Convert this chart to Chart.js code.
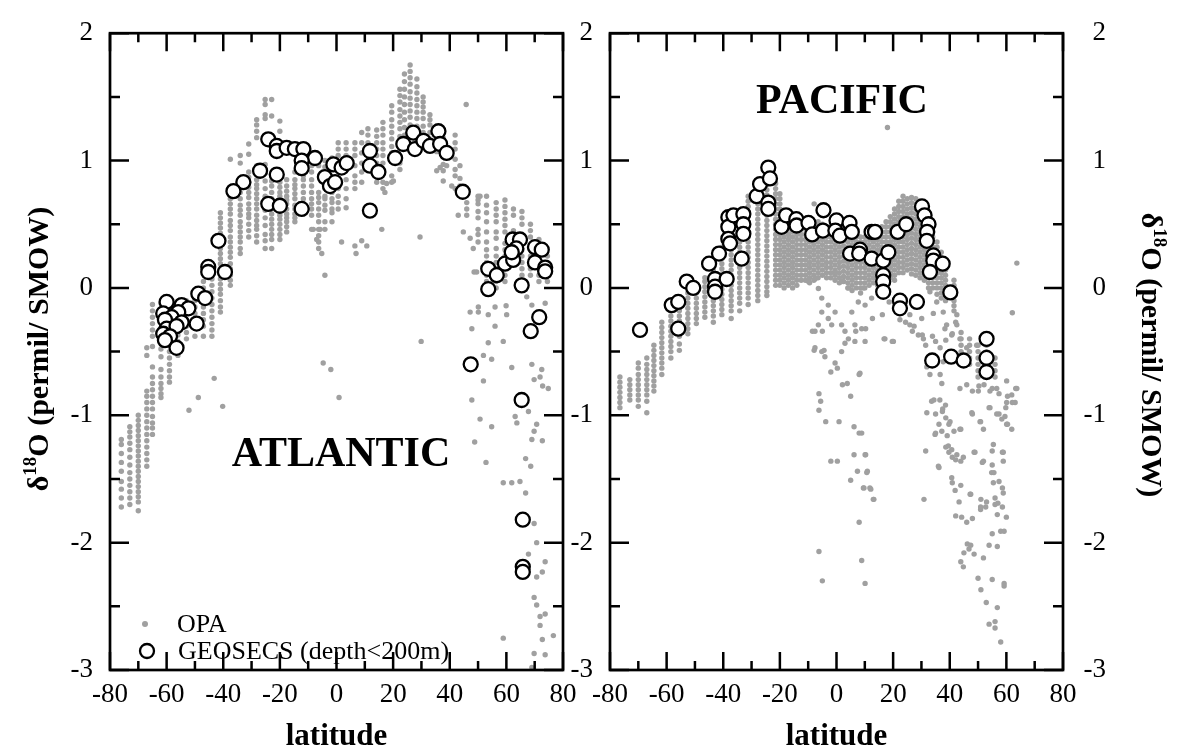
<!DOCTYPE html>
<html>
<head>
<meta charset="utf-8">
<script src="https://cdn.jsdelivr.net/npm/chart.js@4.4.1/dist/chart.umd.min.js"></script>
<style>
	html, body { margin: 0; background: #fff; }
	body { width: 1179px; height: 749px; position: relative; overflow: hidden; }
	canvas { position: absolute; top: 0; }
	#atl { left: 0; }
	#pac { left: 565px; }
</style>
</head>
<body>
<canvas id="atl" width="600" height="749"></canvas>
<canvas id="pac" width="614" height="749"></canvas>
<script>
// OPA model values, grouped by model latitude column: [lat, [d18O...]]
const atlOpaColumns = [
	[-76, [-1.19, -1.23, -1.30, -1.37, -1.44, -1.52, -1.58, -1.65, -1.72]],
	[-73, [-1.09, -1.13, -1.17, -1.22, -1.27, -1.33, -1.39, -1.45, -1.50, -1.55, -1.60, -1.65, -1.70]],
	[-70, [-1.00, -1.04, -1.08, -1.12, -1.16, -1.20, -1.24, -1.28, -1.32, -1.36, -1.40, -1.44, -1.48, -1.52, -1.56, -1.60, -1.64, -1.68, -1.75]],
	[-67, [-0.47, -0.53, -0.81, -0.85, -0.90, -0.95, -1.00, -1.05, -1.10, -1.15, -1.20, -1.25, -1.30, -1.35, -1.40]],
	[-65, [-0.13, -0.18, -0.23, -0.28, -0.33, -0.38, -0.46, -0.62, -0.70, -0.75, -0.80, -0.85, -0.90, -0.95, -1.01, -1.06, -1.10, -1.15]],
	[-62, [-0.12, -0.17, -0.22, -0.27, -0.32, -0.37, -0.42, -0.48, -0.54, -0.64, -0.70, -0.75, -0.79, -0.83, -0.86]],
	[-59, [-0.15, -0.20, -0.25, -0.30, -0.35, -0.40, -0.45, -0.50, -0.55, -0.60, -0.65, -0.70, -0.74]],
	[-56, [-0.12, -0.17, -0.22, -0.27, -0.32, -0.37, -0.42, -0.47, -0.53]],
	[-53, [-0.10, -0.15, -0.20, -0.25, -0.30, -0.35, -0.40]],
	[-50, [-0.05, -0.10, -0.15, -0.20, -0.25, -0.30, -0.38]],
	[-47, [0.05, 0.00, -0.05, -0.10, -0.15, -0.20, -0.25, -0.30, -0.38]],
	[-44, [0.12, 0.07, 0.02, -0.03, -0.08, -0.13, -0.18, -0.23, -0.28, -0.33, -0.38]],
	[-41, [0.59, 0.55, 0.51, 0.47, 0.43, 0.39, 0.35, 0.31, 0.27, 0.23, 0.19, 0.15, 0.11, 0.07, 0.03, -0.01, -0.05, -0.10, -0.15, -0.19]],
	[-37.5, [1.01, 0.75, 0.70, 0.66, 0.62, 0.58, 0.53, 0.49, 0.45, 0.40, 0.36, 0.32, 0.28, 0.24, 0.19, 0.15, 0.10, 0.06, 0.02]],
	[-34, [1.04, 0.98, 0.75, 0.70, 0.65, 0.61, 0.57, 0.52, 0.48, 0.44, 0.40, 0.36, 0.31, 0.27]],
	[-31, [1.13, 1.05, 0.91, 0.87, 0.83, 0.79, 0.75, 0.71, 0.66, 0.62, 0.58, 0.55, 0.50, 0.45, 0.40]],
	[-28.2, [1.32, 1.28, 1.23, 1.18, 0.96, 0.90, 0.85, 0.81, 0.78, 0.74, 0.70, 0.66, 0.62, 0.57, 0.53, 0.49, 0.46, 0.41, 0.36]],
	[-25.2, [1.48, 1.44, 1.36, 1.33, 0.97, 0.90, 0.84, 0.78, 0.72, 0.67, 0.61, 0.55, 0.49, 0.42, 0.37, 0.31]],
	[-22.9, [1.48, 1.35, 0.84, 0.80, 0.75, 0.70, 0.66, 0.62, 0.58, 0.54, 0.50, 0.46, 0.42, 0.38, 0.31]],
	[-20, [1.31, 1.23, 0.83, 0.79, 0.75, 0.72, 0.69, 0.65, 0.61, 0.57, 0.54, 0.50, 0.46, 0.42, 0.38]],
	[-17.6, [0.85, 0.80, 0.76, 0.72, 0.69, 0.66, 0.62, 0.58, 0.55, 0.52, 0.48, 0.44]],
	[-14.7, [1.09, 0.91, 0.85, 0.81, 0.78, 0.74, 0.70, 0.65, 0.62, 0.58, 0.55, 0.52]],
	[-11.7, [0.91, 0.88, 0.85, 0.80, 0.75, 0.70, 0.65, 0.61, 0.58]],
	[-8.8, [1.02, 0.96, 0.91, 0.85, 0.80, 0.75, 0.70, 0.66, 0.62, 0.57, 0.46]],
	[-6.3, [0.96, 0.75, 0.71, 0.67, 0.62, 0.57, 0.52, 0.46, 0.41, 0.36, 0.31]],
	[-4.1, [1.00, 0.95, 0.88, 0.83, 0.78, 0.72, 0.70, 0.65, 0.61, 0.52, 0.46]],
	[-1.6, [1.02, 0.98, 0.93, 0.75, 0.70, 0.67, 0.62, 0.59, 0.52]],
	[0.6, [1.14, 1.09, 1.04, 0.98, 0.93, 0.78, 0.72, 0.67, 0.62]],
	[3.4, [1.14, 1.09, 1.04, 0.98, 0.93, 0.85, 0.78, 0.70, 0.63]],
	[6.5, [1.14, 1.09, 1.04, 0.96, 0.88, 0.83, 0.78]],
	[8.9, [1.22, 1.14, 1.06, 0.98, 0.91, 0.83]],
	[11.1, [1.25, 1.20, 1.14, 0.93]],
	[14.2, [1.24, 1.19, 1.14, 1.09, 1.04, 0.98, 0.88, 0.83]],
	[16.4, [1.30, 1.25, 1.20, 1.14, 1.09, 1.04, 0.98, 0.83, 0.78]],
	[19.5, [1.43, 1.38, 1.32, 1.27, 1.22, 1.17, 1.11, 1.06, 0.88, 0.83]],
	[22.4, [1.56, 1.51, 1.46, 1.40, 1.35, 1.30, 1.25, 1.19, 1.14, 0.98, 0.93]],
	[24, [1.68, 1.62, 1.56, 1.50, 1.44, 1.38, 1.32, 1.26, 1.20]],
	[26, [1.75, 1.70, 1.65, 1.60, 1.54, 1.49, 1.44, 1.39, 1.34, 1.28, 1.22]],
	[28.4, [1.64, 1.58, 1.53, 1.48, 1.43, 1.38, 1.33, 1.27, 1.22, 1.16]],
	[30.6, [1.50, 1.46, 1.42, 1.38, 1.33, 1.27, 1.22, 1.16]],
	[33, [1.36, 1.32, 1.28, 1.22, 1.17, 1.12]],
	[35.4, [1.26, 1.22, 1.17, 1.12, 1.07, 0.92]],
	[37.7, [1.18, 1.13, 1.08, 1.03, 0.97, 0.92, 0.84]],
	[41.9, [1.20, 1.14, 1.09, 1.01, 0.93, 0.88, 0.78]],
	[43.6, [0.96, 0.86, 0.80]],
	[46, [0.67, 0.62, 0.57]],
	[50, [0.72, 0.69, 0.66, 0.60, 0.55, 0.46, 0.42, 0.36]],
	[53, [0.72, 0.65, 0.59, 0.52, 0.44, 0.36, 0.30, 0.25, 0.20, 0.15, 0.10, 0.05]],
	[56.4, [0.67, 0.62, 0.57, 0.52, 0.44, 0.39, 0.31, 0.25, 0.20, 0.15, 0.10, 0.05, 0.00]],
	[59.5, [0.69, 0.64, 0.59, 0.54, 0.49, 0.44, 0.35, 0.30, 0.25, 0.20, 0.15, 0.10, 0.05]],
	[62.5, [0.62, 0.57, 0.45, 0.40, 0.35, 0.30, 0.25, 0.20]],
	[65.5, [0.60, 0.55, 0.50, 0.35, 0.30, 0.25, 0.20, 0.15, 0.10]],
	[68.5, [0.50, 0.45, 0.40, 0.30, 0.25, 0.20, 0.15, 0.10]],
	[71.5, [0.38, 0.30, 0.25, 0.20, 0.15, 0.10, 0.05]],
	[74.5, [0.25, 0.20, 0.15, 0.10, 0.05]],
]

// OPA values away from the dense columns: [lat, d18O]
const atlOpaLoose = [
	[-48.8, -0.86], [-52.1, -0.96], [-43.2, -0.71], [-40.2, -0.93], [-4.1, 0.10], [-4.7, -0.59], [-2.0, -0.64],
	[0.9, -0.86], [6.9, 0.27], [-5.2, 0.27], [-8.2, 0.46], [-5.8, 0.46], [-7.0, 0.38], [1.8, 0.36], [6.5, 0.33],
	[8.9, 0.37], [10.7, 0.33], [16.0, 0.46], [29.5, 0.40], [45.8, 1.44], [43.0, 0.57], [44.8, 0.44], [47.2, 0.39],
	[48.3, 0.31], [48.6, 0.125], [50.1, -0.19], [29.9, -0.42], [36.6, 0.945], [38.9, 0.96], [40.7, 0.80],
	[20.1, 0.84], [17.7, 0.82], [17.1, 0.75], [50.7, 0.72],
	[47.2, -0.19], [50.1, -0.15], [47.8, -0.32], [53.6, -0.21], [56.0, -0.30], [58.9, -0.42], [53.6, -0.43],
	[51.9, -0.53], [54.8, -0.56], [51.9, -0.73], [47.8, -0.88], [50.7, -1.03], [54.8, -1.09], [48.8, -1.21],
	[52.8, -1.37], [58.9, -1.53], [61.9, -1.53], [64.8, -1.52], [66.8, -1.34], [68.6, -1.40], [66.8, -1.61],
	[61.9, -0.625], [69.0, -0.60], [72.5, -0.64], [69.8, -0.72], [71.9, -0.70], [72.8, -0.77], [74.8, -0.79],
	[63.1, -1.01], [63.7, -1.06], [67.8, -0.97], [70.7, -1.07], [69.8, -1.125], [69.0, -1.19], [72.7, -1.20],
	[69.0, -0.135], [73.7, -0.12], [67.2, -0.07], [59.9, -0.14], [60.1, -0.21], [56.0, -0.15], [49.5, 0.125],
	[69.8, -1.85], [70.7, -2.00], [67.8, -2.09], [73.7, -2.15], [72.7, -2.23], [70.7, -2.27], [69.8, -2.43],
	[70.7, -2.49], [71.9, -2.58], [73.7, -2.56], [71.9, -2.65], [76.6, -2.73], [72.7, -2.76], [58.9, -2.75],
	[69.8, -2.87], [73.7, -2.88], [69.0, -2.98],
]

// GEOSECS surface samples (depth < 200 m): [lat, d18O]
const atlGeosecs = [
	[-24.1, 1.167], [-21.1, 1.115], [-21.1, 1.075], [-17.6, 1.10], [-14.7, 1.09], [-11.7, 1.09], [-7.6, 1.02],
	[-12.3, 1.00], [-12.3, 0.94], [-27.0, 0.92], [-21.1, 0.89], [-32.9, 0.83], [-36.4, 0.76], [-4.1, 0.87],
	[-2.3, 0.80], [-0.5, 0.83], [-1.1, 0.97], [1.8, 0.945], [3.6, 0.98], [11.8, 1.075], [11.8, 0.96], [14.8, 0.91],
	[20.7, 1.02], [23.6, 1.13], [27.1, 1.22], [27.7, 1.09], [30.7, 1.155], [33.0, 1.115], [36.0, 1.23], [36.6, 1.13],
	[38.9, 1.06], [44.6, 0.755], [-24.1, 0.66], [-20.0, 0.645], [-12.3, 0.62], [11.8, 0.607], [-41.7, 0.37],
	[-45.3, 0.165], [-45.3, 0.125], [-39.4, 0.125], [-48.8, -0.045], [-46.4, -0.08],
	[-60.0, -0.11], [-54.7, -0.135], [-52.3, -0.16], [-55.9, -0.19], [-61.2, -0.20], [-58.2, -0.23], [-60.6, -0.25],
	[-54.7, -0.27], [-49.4, -0.28], [-60.0, -0.32], [-56.5, -0.30], [-61.2, -0.36], [-58.8, -0.38], [-60.6, -0.41],
	[-56.5, -0.47],
	[62.2, 0.38], [64.8, 0.38], [63.5, 0.31], [70.1, 0.32], [72.5, 0.30], [53.6, 0.15], [56.6, 0.10], [59.5, 0.19],
	[62.4, 0.22], [61.9, 0.28], [53.6, -0.01], [65.4, 0.02], [70.1, 0.20], [73.7, 0.16], [73.7, 0.13], [71.6, -0.23],
	[68.6, -0.34], [47.4, -0.60], [65.4, -0.88], [65.8, -1.82], [65.8, -2.19], [65.8, -2.23],
]

const pacOpaColumns = [
	[-76.5, [-0.70, -0.74, -0.78, -0.82, -0.86, -0.90, -0.94]],
	[-73, [-0.72, -0.76, -0.80, -0.84, -0.88]],
	[-70, [-0.59, -0.63, -0.68, -0.72, -0.76, -0.80, -0.84, -0.88, -0.93]],
	[-67, [-0.55, -0.60, -0.64, -0.68, -0.72, -0.76, -0.80, -0.84, -0.89, -0.98]],
	[-64.5, [-0.45, -0.49, -0.53, -0.57, -0.61, -0.65, -0.69, -0.73, -0.77, -0.81]],
	[-61.7, [-0.27, -0.31, -0.35, -0.39, -0.43, -0.47, -0.51, -0.55, -0.59, -0.63, -0.68]],
	[-58.5, [-0.18, -0.22, -0.26, -0.30, -0.34, -0.38, -0.42, -0.46, -0.50, -0.55]],
	[-55.5, [-0.10, -0.14, -0.18, -0.22, -0.26, -0.30, -0.34, -0.38, -0.44, -0.49]],
	[-52.5, [-0.04, -0.08, -0.12, -0.16, -0.20, -0.24, -0.28, -0.32, -0.36]],
	[-49.5, [0.00, -0.04, -0.08, -0.12, -0.16, -0.20, -0.24, -0.28]],
	[-46.5, [0.08, 0.05, 0.01, -0.03, -0.07, -0.11, -0.15, -0.19, -0.23]],
	[-43.5, [0.14, 0.10, 0.06, 0.02, -0.02, -0.06, -0.10, -0.14, -0.18, -0.22, -0.27]],
	[-40.5, [0.32, 0.27, 0.23, 0.19, 0.15, 0.11, 0.07, 0.03, -0.01, -0.05, -0.09, -0.13, -0.17, -0.21]],
	[-37.2, [0.50, 0.46, 0.42, 0.38, 0.34, 0.30, 0.26, 0.22, 0.18, 0.14, 0.10, 0.06, 0.02, -0.02, -0.06, -0.10, -0.14, -0.18, -0.24]],
	[-34.2, [0.52, 0.48, 0.44, 0.40, 0.36, 0.32, 0.28, 0.24, 0.20, 0.16, 0.12, 0.08, 0.04, 0.00, -0.04, -0.08, -0.12, -0.18]],
	[-31.2, [0.72, 0.68, 0.64, 0.60, 0.56, 0.52, 0.48, 0.44, 0.40, 0.36, 0.32, 0.28, 0.24, 0.20, 0.16, 0.12, 0.08, 0.04, 0.00, -0.04, -0.08, -0.13]],
	[-27.8, [0.78, 0.74, 0.70, 0.66, 0.62, 0.58, 0.54, 0.50, 0.46, 0.42, 0.38, 0.34, 0.30, 0.26, 0.22, 0.18, 0.14, 0.10, 0.06, 0.02, -0.02, -0.06, -0.10]],
	[-24.6, [0.93, 0.89, 0.85, 0.81, 0.77, 0.73, 0.69, 0.65, 0.61, 0.57, 0.53, 0.49, 0.45, 0.41, 0.37, 0.33, 0.29, 0.25, 0.21, 0.17, 0.13, 0.09, 0.05, 0.01, -0.03, -0.06]],
	[-21.5, [0.82, 0.78, 0.74, 0.70, 0.66, 0.62, 0.58, 0.54, 0.50, 0.46, 0.42, 0.38, 0.34, 0.30, 0.26, 0.22, 0.18, 0.14, 0.10, 0.06, 0.02]],
	[-20, [0.74, 0.70, 0.66, 0.62, 0.58, 0.54, 0.50, 0.46, 0.42, 0.38, 0.34, 0.30, 0.26, 0.22, 0.18, 0.14, 0.10, 0.06, 0.02]],
	[-18.5, [0.56, 0.52, 0.48, 0.44, 0.40, 0.36, 0.32, 0.28, 0.24, 0.20, 0.16, 0.12, 0.08, 0.04, 0.00]],
	[-17, [0.54, 0.50, 0.46, 0.42, 0.38, 0.34, 0.30, 0.26, 0.22, 0.18, 0.14, 0.10, 0.06, 0.02]],
	[-15.5, [0.52, 0.48, 0.44, 0.40, 0.36, 0.32, 0.28, 0.24, 0.20, 0.16, 0.12, 0.08, 0.04, 0.00]],
	[-14, [0.50, 0.46, 0.42, 0.38, 0.34, 0.30, 0.26, 0.22, 0.18, 0.14, 0.10, 0.06, 0.02]],
	[-12.5, [0.46, 0.42, 0.38, 0.34, 0.30, 0.26, 0.22, 0.18, 0.14, 0.10, 0.06]],
	[-11, [0.46, 0.42, 0.38, 0.34, 0.30, 0.26, 0.22, 0.18, 0.14, 0.10, 0.06]],
	[-9.5, [0.48, 0.44, 0.40, 0.36, 0.32, 0.28, 0.24, 0.20, 0.16, 0.12, 0.08, 0.04]],
	[-8, [0.50, 0.46, 0.42, 0.38, 0.34, 0.30, 0.26, 0.22, 0.18, 0.14, 0.10, 0.06]],
	[-6.5, [0.52, 0.48, 0.44, 0.40, 0.36, 0.32, 0.28, 0.24, 0.20, 0.16, 0.12, 0.08]],
	[-5, [0.50, 0.46, 0.42, 0.38, 0.34, 0.30, 0.26, 0.22, 0.18, 0.14, 0.10]],
	[-3.5, [0.48, 0.44, 0.40, 0.36, 0.32, 0.28, 0.24, 0.20, 0.16, 0.12, 0.08]],
	[-2, [0.44, 0.40, 0.36, 0.32, 0.28, 0.24, 0.20, 0.16, 0.12, 0.08]],
	[-0.5, [0.42, 0.38, 0.34, 0.30, 0.26, 0.22, 0.18, 0.14, 0.10, 0.06]],
	[1, [0.44, 0.40, 0.36, 0.32, 0.28, 0.24, 0.20, 0.16, 0.12, 0.08, 0.04]],
	[2.5, [0.45, 0.41, 0.37, 0.33, 0.29, 0.25, 0.21, 0.17, 0.13, 0.09, 0.05]],
	[4, [0.44, 0.40, 0.36, 0.32, 0.28, 0.24, 0.20, 0.16, 0.12, 0.08, 0.04, 0.00]],
	[5.5, [0.42, 0.38, 0.34, 0.30, 0.26, 0.22, 0.18, 0.14, 0.10, 0.06, 0.02, -0.02]],
	[7, [0.40, 0.36, 0.32, 0.28, 0.24, 0.20, 0.16, 0.12, 0.08, 0.04, 0.00]],
	[8.5, [0.40, 0.36, 0.32, 0.28, 0.24, 0.20, 0.16, 0.12, 0.08, 0.04, 0.00, -0.04]],
	[10, [0.40, 0.36, 0.32, 0.28, 0.24, 0.20, 0.16, 0.12, 0.08, 0.04, 0.00]],
	[11.5, [0.42, 0.38, 0.34, 0.30, 0.26, 0.22, 0.18, 0.14, 0.10, 0.06, 0.02]],
	[13, [0.44, 0.40, 0.36, 0.32, 0.28, 0.24, 0.20, 0.16, 0.12, 0.08, 0.04]],
	[14.5, [0.46, 0.42, 0.38, 0.34, 0.30, 0.26, 0.22, 0.18, 0.14, 0.10, 0.06, 0.02]],
	[16, [0.48, 0.44, 0.40, 0.36, 0.32, 0.28, 0.24, 0.20, 0.16, 0.12, 0.08, 0.04]],
	[17.5, [0.52, 0.48, 0.44, 0.40, 0.36, 0.32, 0.28, 0.24, 0.20, 0.16, 0.12, 0.08, 0.04]],
	[19, [0.56, 0.52, 0.48, 0.44, 0.40, 0.36, 0.32, 0.28, 0.24, 0.20, 0.16, 0.12, 0.08]],
	[20.5, [0.62, 0.58, 0.54, 0.50, 0.46, 0.42, 0.38, 0.34, 0.30, 0.26, 0.22, 0.18, 0.14, 0.10, 0.06]],
	[22, [0.68, 0.64, 0.60, 0.56, 0.52, 0.48, 0.44, 0.40, 0.36, 0.32, 0.28, 0.24, 0.20, 0.16, 0.12]],
	[23.5, [0.72, 0.68, 0.64, 0.60, 0.56, 0.52, 0.48, 0.44, 0.40, 0.36, 0.32, 0.28, 0.24, 0.20, 0.16, 0.12]],
	[25, [0.70, 0.66, 0.62, 0.58, 0.54, 0.50, 0.46, 0.42, 0.38, 0.34, 0.30, 0.26, 0.22, 0.18, 0.14]],
	[26.5, [0.71, 0.67, 0.63, 0.59, 0.55, 0.51, 0.47, 0.43, 0.39, 0.35, 0.31, 0.27, 0.23, 0.19, 0.15, 0.11]],
	[28, [0.70, 0.66, 0.62, 0.58, 0.54, 0.50, 0.46, 0.42, 0.38, 0.34, 0.30, 0.26, 0.22, 0.18, 0.14, 0.10]],
	[29.5, [0.68, 0.64, 0.60, 0.56, 0.52, 0.48, 0.44, 0.40, 0.36, 0.32, 0.28, 0.24, 0.20, 0.16, 0.12, 0.08]],
	[31, [0.62, 0.58, 0.54, 0.50, 0.46, 0.42, 0.38, 0.34, 0.30, 0.26, 0.22, 0.18, 0.14, 0.10, 0.06]],
	[32.5, [0.52, 0.48, 0.44, 0.40, 0.36, 0.32, 0.28, 0.24, 0.20, 0.16, 0.12, 0.08, 0.04, 0.00]],
	[34, [0.44, 0.40, 0.36, 0.32, 0.28, 0.24, 0.20, 0.16, 0.12, 0.08, 0.04, 0.00]],
	[35.5, [0.36, 0.32, 0.28, 0.24, 0.20, 0.16, 0.12, 0.08, 0.04, 0.00, -0.05]],
	[37, [0.28, 0.24, 0.20, 0.16, 0.12, 0.08, 0.04, 0.00, -0.04, -0.08]],
	[38.5, [0.22, 0.18, 0.14, 0.10, 0.06, 0.02, -0.02, -0.06, -0.10]],
	[41.5, [0.06, 0.02, -0.02, -0.06, -0.10, -0.14, -0.18]],
	[44, [-0.35, -0.40, -0.45, -0.50, -0.55]],
	[47, [-0.40, -0.45, -0.50, -0.55, -0.60]],
	[50, [-0.45, -0.50, -0.55, -0.60, -0.65, -0.70]],
	[53, [-0.45, -0.50, -0.60, -0.65, -0.70]],
	[56, [-0.55, -0.60, -0.65, -0.70]],
]

const pacOpaLoose = [
	[-12.3, 0.18], [-9.9, 0.05], [-7.6, 0.07], [-6.4, -0.005], [-5.2, -0.08], [-2.9, -0.135], [-5.2, -0.19],
	[-2.9, -0.24], [-0.5, -0.19], [-1.7, -0.29], [1.8, -0.29], [3.0, -0.34], [4.2, -0.40], [6.5, -0.29],
	[8.9, -0.32], [10.1, -0.42], [6.5, -0.42], [3.0, -0.435], [5.4, -0.19], [7.7, -0.11], [10.1, -0.135],
	[12.4, -0.08], [-7.6, -0.34], [-6.4, -0.29], [-7.6, -0.47], [-5.2, -0.50], [-4.1, -0.54], [-0.5, -0.59],
	[1.8, -0.50], [4.2, 0.00], [9.5, 0.00], [-0.5, 0.125], [1.8, 0.05],
	[-8.5, -0.34], [-5.0, -0.34], [-7.9, -0.49], [-4.4, -0.49], [-2.0, -0.66], [0.3, -0.63], [2.1, -0.76],
	[3.8, -0.75], [8.0, -0.68], [5.0, -0.85], [-6.2, -0.83], [-5.6, -0.89], [-6.2, -0.96], [-3.8, -1.05],
	[0.9, -1.05], [6.2, -1.09], [8.0, -1.14], [-2.0, -1.36], [0.3, -1.36], [6.2, -1.31], [10.3, -1.31],
	[5.0, -1.51], [7.4, -1.44], [10.9, -1.44], [9.7, -1.57], [12.1, -1.58], [13.2, -1.66], [30.9, -1.66],
	[6.8, -0.34], [10.3, -0.32], [12.7, -0.24], [16.2, -0.21], [18.6, -0.11], [16.8, -0.40], [19.7, -0.42],
	[24.4, -0.27], [26.8, -0.34], [27.4, -0.30], [30.3, -0.37], [33.9, -0.38], [31.5, -0.45], [35.0, -0.42],
	[38.6, -0.41], [40.9, -0.36], [42.1, -0.27],
	[33.0, -0.03], [35.4, -0.11], [37.7, -0.19], [38.9, -0.29], [40.7, -0.37], [42.5, -0.29], [43.6, -0.40],
	[42.5, -0.21], [36.6, -0.47], [37.7, -0.58], [43.6, -0.53], [46.0, -0.47], [49.5, -0.45],
	[60.1, -0.73], [63.7, -0.79], [61.9, -0.84], [60.1, -0.90], [63.1, -0.90], [59.5, -1.01], [60.1, -1.07],
	[61.9, -1.11], [56.6, -0.99], [58.4, -1.03], [54.2, -0.94], [50.7, -1.05], [47.8, -0.98], [43.6, -1.11],
	[40.1, -1.05], [37.5, -0.95], [36.5, -0.88], [38.5, -0.92],
	[31.9, -0.98], [34.8, -1.15], [37.2, -1.125], [39.5, -1.24], [40.7, -1.27], [42.5, -1.31], [44.8, -1.33],
	[36.0, -1.40], [40.7, -1.49], [41.9, -1.59], [47.2, -1.62], [48.9, -1.29], [51.9, -1.36], [54.8, -1.45],
	[55.4, -1.53], [56.0, -1.65], [58.9, -1.61], [58.9, -1.36], [58.9, -1.29], [55.4, -1.23], [51.9, -1.11],
	[43.6, -0.79], [46.0, -0.76], [50.1, -0.81], [54.2, -0.81], [56.6, -0.79], [36.6, -0.68], [37.2, -0.75],
	[33.6, -0.89], [31.9, -0.62], [33.0, -0.68],
	[8.3, -0.67], [8.9, -1.14], [10.1, -1.31], [10.7, -1.45], [9.5, -1.57], [11.8, -1.57], [13.0, -1.66],
	[17.1, -0.40], [20.1, -0.42], [22.4, -0.25], [25.9, -0.29], [28.9, -0.37], [30.7, -0.40], [25.9, -0.21],
	[30.1, -0.24], [34.2, -0.20], [38.3, -0.32], [63.7, 0.195], [62.1, -0.195], [18.0, 1.26], [-7.9, 0.66],
	[-6.2, -2.07], [-5.0, -2.30], [8.0, -1.84], [8.9, -2.14], [10.1, -2.32], [42.1, -1.79], [44.2, -1.80],
	[46.0, -1.84], [48.0, -1.81], [43.3, -1.68], [50.9, -1.74], [52.7, -1.72], [56.0, -1.70], [56.8, -1.78],
	[60.0, -1.80], [55.0, -1.93], [58.0, -1.91], [59.2, -1.91], [46.2, -2.01], [46.8, -2.05], [48.6, -2.09],
	[45.0, -2.08], [47.4, -2.02], [53.9, -2.02], [56.8, -2.03], [43.9, -2.15], [44.8, -2.19], [51.9, -2.12],
	[50.0, -2.28], [51.0, -2.37], [55.0, -2.29], [59.2, -2.32], [59.2, -2.34], [52.9, -2.47], [56.8, -2.51],
	[53.9, -2.64], [56.0, -2.62], [56.0, -2.67], [58.0, -2.78],
	[34.4, -0.88], [35.0, -0.99], [37.4, -0.97], [38.6, -1.02], [39.7, -1.07], [36.2, -1.07], [35.0, -1.14],
	[39.1, -1.16], [41.5, -1.125], [43.9, -1.11], [48.0, -0.99], [50.9, -1.05], [53.9, -0.94], [57.4, -0.99],
	[59.8, -0.94], [60.4, -1.07], [62.1, -0.90], [63.3, -0.79], [60.4, -0.85], [57.4, -0.83], [55.0, -0.79],
	[52.1, -0.76], [50.3, -0.77], [48.0, -0.81], [31.5, -1.28], [38.6, -1.25], [39.7, -1.29], [40.9, -1.33],
	[42.1, -1.35], [43.9, -1.36], [48.6, -1.29], [51.5, -1.37], [55.0, -1.28], [55.0, -1.39], [58.6, -1.29],
	[55.6, -1.45], [57.4, -1.52], [58.6, -1.57], [36.2, -1.41], [40.9, -1.53], [43.9, -1.55], [47.4, -1.62],
	[50.9, -1.72], [51.0, -1.66], [53.0, -1.68], [57.0, -1.69], [58.6, -1.72],
]

const pacGeosecs = [
	[-69.4, -0.33], [-58.2, -0.135], [-55.9, -0.11], [-55.9, -0.32], [-52.9, 0.05], [-50.6, 0.00], [-45.0, 0.19],
	[-42.9, 0.07], [-42.9, 0.01], [-42.9, -0.03], [-41.5, 0.27], [-38.8, 0.07], [-38.2, 0.555], [-38.2, 0.48],
	[-38.2, 0.385], [-37.6, 0.35], [-36.4, 0.57], [-33.5, 0.23], [-32.9, 0.58], [-32.9, 0.50], [-32.9, 0.425],
	[-28.2, 0.72], [-27.0, 0.815], [-24.1, 0.945], [-23.5, 0.86], [-24.1, 0.67], [-24.1, 0.62],
	[-19.4, 0.48], [-17.8, 0.57], [-14.2, 0.54], [-14.1, 0.49], [-9.9, 0.51], [-8.6, 0.42], [-4.6, 0.61],
	[-4.8, 0.45], [0.0, 0.53], [-0.4, 0.45], [1.2, 0.41], [4.6, 0.51], [5.4, 0.44], [4.8, 0.27], [8.3, 0.30],
	[8.0, 0.27], [12.4, 0.44], [13.6, 0.44], [12.4, 0.23], [16.5, 0.215], [18.3, 0.28], [16.5, 0.10], [16.5, 0.05],
	[16.5, -0.03], [21.6, 0.44], [24.6, 0.50], [30.2, 0.64], [31.1, 0.57], [32.5, 0.50], [32.0, 0.44], [31.9, 0.37],
	[34.2, 0.255], [34.2, 0.215], [37.5, 0.19], [33.0, 0.125], [40.2, -0.035], [22.4, -0.10], [22.4, -0.16],
	[28.4, -0.11], [33.8, -0.57], [40.5, -0.54], [44.9, -0.57], [53.0, -0.40], [53.0, -0.55], [53.0, -0.66],
]

const latMin = -80
const latMax = 80
const d18Min = -3
const d18Max = 2

const GRAY = "#a0a0a0"
const SERIF = '"Liberation Serif", "Times New Roman", serif'

function toPoints(columns, loose) {
	const pts = []
	columns.forEach(([lat, values]) => {
		values.forEach(v => pts.push({ x: lat, y: v }))
	})
	loose.forEach(([lat, v]) => pts.push({ x: lat, y: v }))
	return pts
}

function pairs(list) {
	return list.map(([lat, v]) => ({ x: lat, y: v }))
}

function drawDeltaTitle(ctx, x, y, angle) {
	const big = "bold 30px " + SERIF
	const small = "bold 19px " + SERIF
	const parts = [["δ", big, 0], ["18", small, -12], ["O (permil/ SMOW)", big, 0]]
	ctx.save()
	ctx.translate(x, y)
	ctx.rotate(angle)
	ctx.fillStyle = "#000"
	ctx.textAlign = "left"
	ctx.textBaseline = "alphabetic"
	let total = 0
	parts.forEach(p => {
		ctx.font = p[1]
		total += ctx.measureText(p[0]).width
	})
	let cx = -total / 2
	parts.forEach(p => {
		ctx.font = p[1]
		ctx.fillText(p[0], cx, p[2])
		cx += ctx.measureText(p[0]).width
	})
	ctx.restore()
}

// frame, inward ticks on all sides, titles, panel label, legend
const deco = {
	id: "deco",
	afterDatasetsDraw(chart, args, opts) {
		const { ctx, chartArea: a, scales } = chart
		ctx.save()
		ctx.strokeStyle = "#000"
		ctx.lineWidth = 2.5
		ctx.beginPath()
		scales.x.ticks.forEach(t => {
			const px = scales.x.getPixelForValue(t.value)
			const len = t.value % 20 === 0 ? 18 : 9
			ctx.moveTo(px, a.bottom)
			ctx.lineTo(px, a.bottom - len)
			ctx.moveTo(px, a.top)
			ctx.lineTo(px, a.top + len)
		})
		scales.y.ticks.forEach(t => {
			const py = scales.y.getPixelForValue(t.value)
			const len = Math.abs(t.value - Math.round(t.value)) < 1e-6 ? 19 : 10
			ctx.moveTo(a.left, py)
			ctx.lineTo(a.left + len, py)
			ctx.moveTo(a.right, py)
			ctx.lineTo(a.right - len, py)
		})
		ctx.stroke()
		ctx.lineWidth = 2.7
		ctx.strokeRect(a.left, a.top, a.right - a.left, a.bottom - a.top)

		ctx.fillStyle = "#000"
		ctx.textAlign = "center"
		ctx.textBaseline = "alphabetic"
		ctx.font = "bold 31px " + SERIF
		ctx.fillText("latitude", (a.left + a.right) / 2, 745)

		ctx.font = "bold 42px " + SERIF
		ctx.fillText(opts.label, a.left + opts.labelDx, a.top + opts.labelDy)

		drawDeltaTitle(ctx, opts.titleX, opts.titleY, opts.titleAngle)

		if (opts.legend) {
			ctx.font = "26px " + SERIF
			ctx.textAlign = "left"
			ctx.fillStyle = GRAY
			ctx.beginPath()
			ctx.arc(145, 624, 3, 0, Math.PI * 2)
			ctx.fill()
			ctx.fillStyle = "#fff"
			ctx.strokeStyle = "#000"
			ctx.lineWidth = 2.3
			ctx.beginPath()
			ctx.arc(147, 651, 7, 0, Math.PI * 2)
			ctx.fill()
			ctx.stroke()
			ctx.fillStyle = "#000"
			ctx.fillText("OPA", 177, 632)
			ctx.fillText("GEOSECS (depth<200m)", 178, 659)
		}
		ctx.restore()
	},
}

function makeChart(canvas, opa, geosecs, extra) {
	const tickFont = { family: SERIF, size: 27 }
	const intLabel = v => (Math.abs(v - Math.round(v)) < 1e-6 ? String(Math.round(v)) : "")
	const scales = {
		x: {
			type: "linear",
			min: latMin,
			max: latMax,
			grid: { display: false, drawTicks: false },
			border: { display: false },
			ticks: {
				stepSize: 10,
				autoSkip: false,
				maxRotation: 0,
				padding: 9,
				color: "#000",
				font: tickFont,
				callback: v => (v % 20 === 0 ? String(v) : ""),
			},
			afterFit: s => { s.height = 79 },
		},
		y: {
			type: "linear",
			position: "left",
			min: d18Min,
			max: d18Max,
			grid: { display: false, drawTicks: false },
			border: { display: false },
			ticks: {
				stepSize: 0.5,
				padding: 17,
				color: "#000",
				font: tickFont,
				callback: intLabel,
			},
			afterFit: s => { s.width = extra.yWidth },
		},
	}
	if (extra.rightAxis) {
		scales.y2 = {
			type: "linear",
			position: "right",
			min: d18Min,
			max: d18Max,
			grid: { display: false, drawTicks: false },
			border: { display: false },
			ticks: {
				stepSize: 0.5,
				crossAlign: "far",
				color: "#000",
				font: tickFont,
				callback: intLabel,
			},
			afterFit: s => { s.width = 43 },
		}
	}
	return new Chart(canvas, {
		type: "scatter",
		data: {
			datasets: [
				{
					label: "GEOSECS (depth<200m)",
					data: pairs(geosecs),
					pointRadius: 7,
					pointBorderWidth: 2.3,
					pointBorderColor: "#000",
					pointBackgroundColor: "#fff",
					order: 0,
				},
				{
					label: "OPA",
					data: opa,
					pointRadius: 2.7,
					pointBorderWidth: 0,
					pointBackgroundColor: GRAY,
					pointBorderColor: GRAY,
					order: 1,
				},
			],
		},
		options: {
			responsive: false,
			animation: false,
			layout: { padding: extra.padding },
			plugins: {
				legend: { display: false },
				tooltip: { enabled: false },
				deco: extra.deco,
			},
			scales: scales,
		},
		plugins: [deco],
	})
}

makeChart(document.getElementById("atl"), toPoints(atlOpaColumns, atlOpaLoose), atlGeosecs, {
	yWidth: 110,
	rightAxis: false,
	padding: { left: 0, top: 30, right: 37, bottom: 0 },
	deco: { label: "ATLANTIC", labelDx: 231, labelDy: 433, legend: true, titleX: 48, titleY: 349, titleAngle: -Math.PI / 2 },
})

makeChart(document.getElementById("pac"), toPoints(pacOpaColumns, pacOpaLoose), pacGeosecs, {
	yWidth: 45,
	rightAxis: true,
	padding: { left: 0, top: 30, right: 73, bottom: 0 },
	deco: { label: "PACIFIC", labelDx: 232, labelDy: 80, legend: false, titleX: 577, titleY: 355, titleAngle: Math.PI / 2 },
})
</script>
</body>
</html>
